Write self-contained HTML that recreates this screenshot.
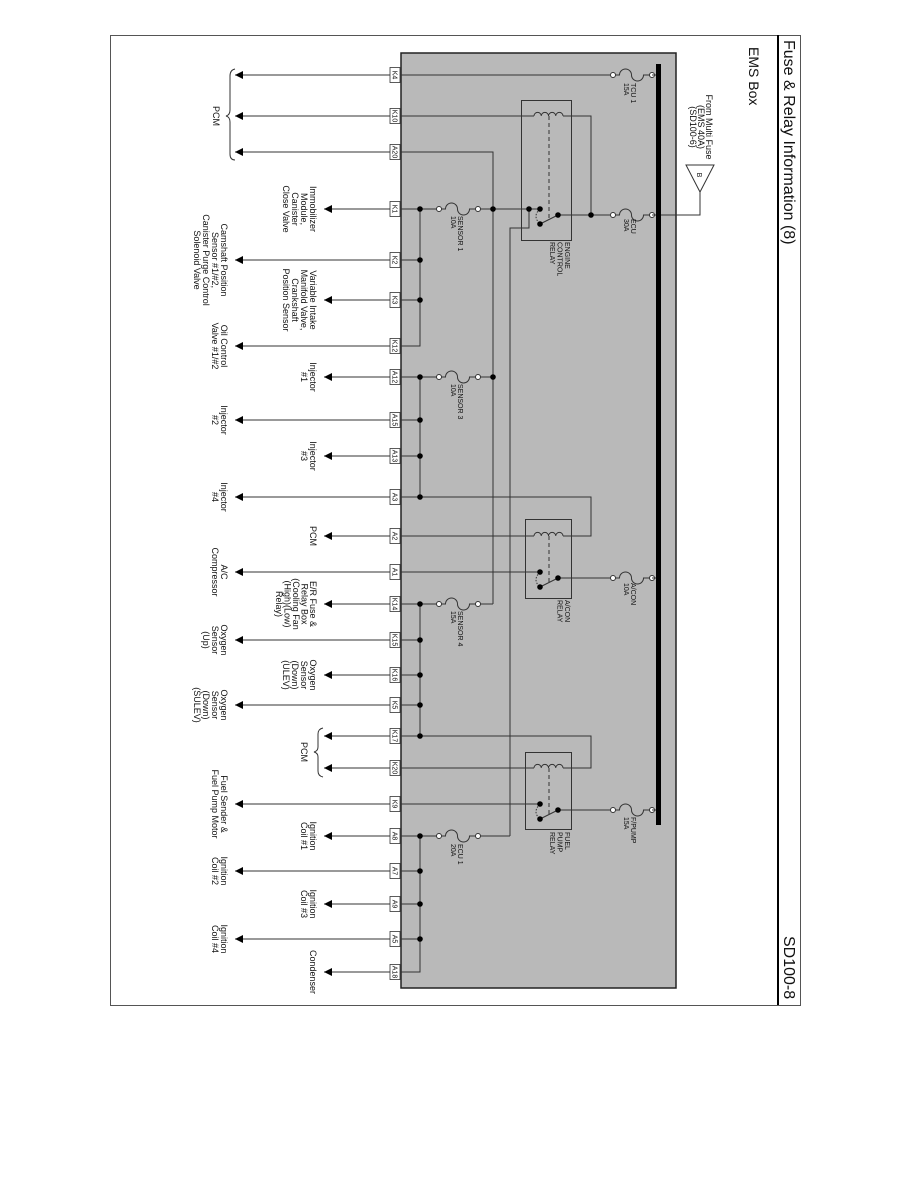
<!DOCTYPE html>
<html><head><meta charset="utf-8"><style>
html,body{margin:0;padding:0;background:#fff;}
svg{display:block;}
text{font-family:"Liberation Sans",sans-serif;fill:#111;}
.l{font-size:9px;}
.p{font-size:7px;}
</style></head><body>
<svg width="918" height="1188" viewBox="0 0 918 1188" xmlns="http://www.w3.org/2000/svg">
<defs>
<marker id="ar" markerWidth="8" markerHeight="8" refX="8" refY="4" orient="auto" markerUnits="userSpaceOnUse">
<path d="M8,4 L0,0 L0,8 Z" fill="#000"/>
</marker>
</defs>
<rect x="110.5" y="35.5" width="690" height="970" fill="none" stroke="#555" stroke-width="1"/>
<line x1="778" y1="35" x2="778" y2="1005" stroke="#000" stroke-width="2"/>
<text transform="translate(784,40) rotate(90)" style="font-size:16px">Fuse &amp; Relay Information (8)</text>
<text transform="translate(749,47) rotate(90)" style="font-size:14px">EMS Box</text>
<text transform="translate(784,936) rotate(90)" style="font-size:16px">SD100-8</text>

<rect x="401" y="53" width="275" height="935" fill="#b9b9b9" stroke="#222" stroke-width="1.5"/>
<rect x="656" y="64" width="5" height="761" fill="#000"/>

<g stroke="#333" stroke-width="1" fill="none">
<line x1="390" y1="75" x2="235" y2="75" marker-end="url(#ar)"/>
<line x1="390" y1="116" x2="235" y2="116" marker-end="url(#ar)"/>
<line x1="390" y1="152" x2="235" y2="152" marker-end="url(#ar)"/>
<line x1="390" y1="260" x2="235" y2="260" marker-end="url(#ar)"/>
<line x1="390" y1="346" x2="235" y2="346" marker-end="url(#ar)"/>
<line x1="390" y1="420" x2="235" y2="420" marker-end="url(#ar)"/>
<line x1="390" y1="497" x2="235" y2="497" marker-end="url(#ar)"/>
<line x1="390" y1="572" x2="235" y2="572" marker-end="url(#ar)"/>
<line x1="390" y1="640" x2="235" y2="640" marker-end="url(#ar)"/>
<line x1="390" y1="705" x2="235" y2="705" marker-end="url(#ar)"/>
<line x1="390" y1="804" x2="235" y2="804" marker-end="url(#ar)"/>
<line x1="390" y1="871" x2="235" y2="871" marker-end="url(#ar)"/>
<line x1="390" y1="939" x2="235" y2="939" marker-end="url(#ar)"/>
<line x1="390" y1="209" x2="324" y2="209" marker-end="url(#ar)"/>
<line x1="390" y1="300" x2="324" y2="300" marker-end="url(#ar)"/>
<line x1="390" y1="377" x2="324" y2="377" marker-end="url(#ar)"/>
<line x1="390" y1="456" x2="324" y2="456" marker-end="url(#ar)"/>
<line x1="390" y1="536" x2="324" y2="536" marker-end="url(#ar)"/>
<line x1="390" y1="604" x2="324" y2="604" marker-end="url(#ar)"/>
<line x1="390" y1="675" x2="324" y2="675" marker-end="url(#ar)"/>
<line x1="390" y1="736" x2="324" y2="736" marker-end="url(#ar)"/>
<line x1="390" y1="768" x2="324" y2="768" marker-end="url(#ar)"/>
<line x1="390" y1="836" x2="324" y2="836" marker-end="url(#ar)"/>
<line x1="390" y1="904" x2="324" y2="904" marker-end="url(#ar)"/>
<line x1="390" y1="972" x2="324" y2="972" marker-end="url(#ar)"/>

<line x1="401" y1="75" x2="613" y2="75"/>
<polyline points="401,116 534,116"/>
<polyline points="563,116 591,116 591,215"/>
<polyline points="401,152 493,152 493,604"/>
<polyline points="401,209 439,209"/>
<polyline points="478,209 540,209"/>
<polyline points="529,209 529,228 510,228 510,836"/>
<polyline points="558,215 613,215"/>
<polyline points="401,260 420,260"/>
<polyline points="401,300 420,300"/>
<polyline points="401,346 420,346 420,209"/>
<polyline points="401,377 439,377"/>
<polyline points="478,377 493,377"/>
<polyline points="420,377 420,497"/>
<polyline points="401,420 420,420"/>
<polyline points="401,456 420,456"/>
<polyline points="401,497 591,497 591,536 563,536"/>
<polyline points="401,536 534,536"/>
<polyline points="401,572 540,572"/>
<polyline points="558,578 613,578"/>
<polyline points="401,604 439,604"/>
<polyline points="478,604 493,604"/>
<polyline points="420,604 420,736"/>
<polyline points="401,640 420,640"/>
<polyline points="401,675 420,675"/>
<polyline points="401,705 420,705"/>
<polyline points="401,736 591,736 591,768 563,768"/>
<polyline points="401,768 534,768"/>
<polyline points="401,804 540,804"/>
<polyline points="558,810 613,810"/>
<polyline points="401,836 439,836"/>
<polyline points="478,836 510,836"/>
<polyline points="420,836 420,972 401,972"/>
<polyline points="401,871 420,871"/>
<polyline points="401,904 420,904"/>
<polyline points="401,939 420,939"/>
<polyline points="661,215 700,215 700,192"/>
<path d="M686,165 L714,165 L700,192 Z" fill="#fff"/>

<rect x="521.5" y="100.5" width="50" height="140"/>
<rect x="525.5" y="519.5" width="46" height="79"/>
<rect x="525.5" y="752.5" width="46" height="77"/>
<path d="M534,116 a3.6,3.6 0 0 1 7.25,0 a3.6,3.6 0 0 1 7.25,0 a3.6,3.6 0 0 1 7.25,0 a3.6,3.6 0 0 1 7.25,0"/>
<path d="M534,536 a3.6,3.6 0 0 1 7.25,0 a3.6,3.6 0 0 1 7.25,0 a3.6,3.6 0 0 1 7.25,0 a3.6,3.6 0 0 1 7.25,0"/>
<path d="M534,768 a3.6,3.6 0 0 1 7.25,0 a3.6,3.6 0 0 1 7.25,0 a3.6,3.6 0 0 1 7.25,0 a3.6,3.6 0 0 1 7.25,0"/>
<line x1="549" y1="116" x2="549" y2="219" stroke-dasharray="4,3"/>
<line x1="549" y1="536" x2="549" y2="582" stroke-dasharray="4,3"/>
<line x1="549" y1="768" x2="549" y2="814" stroke-dasharray="4,3"/>
<line x1="540" y1="224" x2="558" y2="215"/>
<line x1="540" y1="587" x2="558" y2="578"/>
<line x1="540" y1="819" x2="558" y2="810"/>
<path d="M540,209 Q532,216 540,224" stroke-dasharray="1.5,1.5"/>
<path d="M540,572 Q532,580 540,587" stroke-dasharray="1.5,1.5"/>
<path d="M540,804 Q532,812 540,819" stroke-dasharray="1.5,1.5"/>

<path d="M235,69 Q230,70 230,76 L230,110 Q230,115 226,116 Q230,117 230,122 L230,154 Q230,160 235,160"/>
<path d="M323,728 Q318,729 318,734 L318,747 Q318,751 314,752 Q318,753 318,757 L318,771 Q318,776 323,777"/>
</g>

<g stroke="#333" stroke-width="1" fill="#fff">
<circle cx="439" cy="209" r="2.5"/><circle cx="478" cy="209" r="2.5"/>
<circle cx="439" cy="377" r="2.5"/><circle cx="478" cy="377" r="2.5"/>
<circle cx="439" cy="604" r="2.5"/><circle cx="478" cy="604" r="2.5"/>
<circle cx="439" cy="836" r="2.5"/><circle cx="478" cy="836" r="2.5"/>
<circle cx="613" cy="75" r="2.5"/><circle cx="652" cy="75" r="2.5"/>
<circle cx="613" cy="215" r="2.5"/><circle cx="652" cy="215" r="2.5"/>
<circle cx="613" cy="578" r="2.5"/><circle cx="652" cy="578" r="2.5"/>
<circle cx="613" cy="810" r="2.5"/><circle cx="652" cy="810" r="2.5"/>
</g>
<g stroke="#333" stroke-width="1" fill="none">
<path d="M441.5,209 l4,0 a6,6 0 0 1 12,0 a6,6 0 0 0 12,0 l6,0"/>
<path d="M441.5,377 l4,0 a6,6 0 0 1 12,0 a6,6 0 0 0 12,0 l6,0"/>
<path d="M441.5,604 l4,0 a6,6 0 0 1 12,0 a6,6 0 0 0 12,0 l6,0"/>
<path d="M441.5,836 l4,0 a6,6 0 0 1 12,0 a6,6 0 0 0 12,0 l6,0"/>
<path d="M615.5,75 l4,0 a6,6 0 0 1 12,0 a6,6 0 0 0 12,0 l6,0"/>
<path d="M615.5,215 l4,0 a6,6 0 0 1 12,0 a6,6 0 0 0 12,0 l6,0"/>
<path d="M615.5,578 l4,0 a6,6 0 0 1 12,0 a6,6 0 0 0 12,0 l6,0"/>
<path d="M615.5,810 l4,0 a6,6 0 0 1 12,0 a6,6 0 0 0 12,0 l6,0"/>
<line x1="652" y1="75" x2="656" y2="75"/><line x1="652" y1="215" x2="656" y2="215"/>
<line x1="652" y1="578" x2="656" y2="578"/><line x1="652" y1="810" x2="656" y2="810"/>
</g>

<g fill="#000">
<circle cx="420" cy="209" r="2.8"/><circle cx="493" cy="209" r="2.8"/><circle cx="529" cy="209" r="2.8"/>
<circle cx="540" cy="209" r="2.8"/><circle cx="540" cy="224" r="2.8"/><circle cx="558" cy="215" r="2.8"/><circle cx="591" cy="215" r="2.8"/>
<circle cx="420" cy="260" r="2.8"/><circle cx="420" cy="300" r="2.8"/>
<circle cx="420" cy="377" r="2.8"/><circle cx="493" cy="377" r="2.8"/>
<circle cx="420" cy="420" r="2.8"/><circle cx="420" cy="456" r="2.8"/><circle cx="420" cy="497" r="2.8"/>
<circle cx="540" cy="572" r="2.8"/><circle cx="540" cy="587" r="2.8"/><circle cx="558" cy="578" r="2.8"/>
<circle cx="420" cy="604" r="2.8"/><circle cx="420" cy="640" r="2.8"/><circle cx="420" cy="675" r="2.8"/>
<circle cx="420" cy="705" r="2.8"/><circle cx="420" cy="736" r="2.8"/>
<circle cx="540" cy="804" r="2.8"/><circle cx="540" cy="819" r="2.8"/><circle cx="558" cy="810" r="2.8"/>
<circle cx="420" cy="836" r="2.8"/><circle cx="420" cy="871" r="2.8"/><circle cx="420" cy="904" r="2.8"/><circle cx="420" cy="939" r="2.8"/>
</g>

<g fill="#fff" stroke="#333" stroke-width="0.8">
<rect x="390" y="67.5" width="10" height="15"/><rect x="390" y="108.5" width="10" height="15"/><rect x="390" y="144.5" width="10" height="15"/>
<rect x="390" y="201.5" width="10" height="15"/><rect x="390" y="252.5" width="10" height="15"/><rect x="390" y="292.5" width="10" height="15"/>
<rect x="390" y="338.5" width="10" height="15"/><rect x="390" y="369.5" width="10" height="15"/><rect x="390" y="412.5" width="10" height="15"/>
<rect x="390" y="448.5" width="10" height="15"/><rect x="390" y="489.5" width="10" height="15"/><rect x="390" y="528.5" width="10" height="15"/>
<rect x="390" y="564.5" width="10" height="15"/><rect x="390" y="596.5" width="10" height="15"/><rect x="390" y="632.5" width="10" height="15"/>
<rect x="390" y="667.5" width="10" height="15"/><rect x="390" y="697.5" width="10" height="15"/><rect x="390" y="728.5" width="10" height="15"/>
<rect x="390" y="760.5" width="10" height="15"/><rect x="390" y="796.5" width="10" height="15"/><rect x="390" y="828.5" width="10" height="15"/>
<rect x="390" y="863.5" width="10" height="15"/><rect x="390" y="896.5" width="10" height="15"/><rect x="390" y="931.5" width="10" height="15"/>
<rect x="390" y="964.5" width="10" height="15"/>
</g>
<g class="p" text-anchor="middle">
<text class="p" transform="translate(392.5,75) rotate(90)">K4</text>
<text class="p" transform="translate(392.5,116) rotate(90)">K10</text>
<text class="p" transform="translate(392.5,152) rotate(90)">A20</text>
<text class="p" transform="translate(392.5,209) rotate(90)">K1</text>
<text class="p" transform="translate(392.5,260) rotate(90)">K2</text>
<text class="p" transform="translate(392.5,300) rotate(90)">K3</text>
<text class="p" transform="translate(392.5,346) rotate(90)">K12</text>
<text class="p" transform="translate(392.5,377) rotate(90)">A12</text>
<text class="p" transform="translate(392.5,420) rotate(90)">A15</text>
<text class="p" transform="translate(392.5,456) rotate(90)">A13</text>
<text class="p" transform="translate(392.5,497) rotate(90)">A3</text>
<text class="p" transform="translate(392.5,536) rotate(90)">A2</text>
<text class="p" transform="translate(392.5,572) rotate(90)">A1</text>
<text class="p" transform="translate(392.5,604) rotate(90)">K14</text>
<text class="p" transform="translate(392.5,640) rotate(90)">K15</text>
<text class="p" transform="translate(392.5,675) rotate(90)">K16</text>
<text class="p" transform="translate(392.5,705) rotate(90)">K5</text>
<text class="p" transform="translate(392.5,736) rotate(90)">K17</text>
<text class="p" transform="translate(392.5,768) rotate(90)">K20</text>
<text class="p" transform="translate(392.5,804) rotate(90)">K9</text>
<text class="p" transform="translate(392.5,836) rotate(90)">A8</text>
<text class="p" transform="translate(392.5,871) rotate(90)">A7</text>
<text class="p" transform="translate(392.5,904) rotate(90)">A9</text>
<text class="p" transform="translate(392.5,939) rotate(90)">A5</text>
<text class="p" transform="translate(392.5,972) rotate(90)">A18</text>
</g>

<g class="l" text-anchor="middle">
<text class="l" transform="translate(213,116) rotate(90)">PCM</text>
<text class="l" transform="translate(310,209) rotate(90)"><tspan x="0">Immobilizer</tspan><tspan x="0" dy="9">Module,</tspan><tspan x="0" dy="9">Canister</tspan><tspan x="0" dy="9">Close Valve</tspan></text>
<text class="l" transform="translate(221,260) rotate(90)"><tspan x="0">Camshaft Position</tspan><tspan x="0" dy="9">Sensor #1/#2,</tspan><tspan x="0" dy="9">Canister Purge Control</tspan><tspan x="0" dy="9">Solenoid Valve</tspan></text>
<text class="l" transform="translate(310,300) rotate(90)"><tspan x="0">Variable Intake</tspan><tspan x="0" dy="9">Manifold Valve,</tspan><tspan x="0" dy="9">Crankshaft</tspan><tspan x="0" dy="9">Position Sensor</tspan></text>
<text class="l" transform="translate(221,346) rotate(90)"><tspan x="0">Oil Control</tspan><tspan x="0" dy="9">Valve #1/#2</tspan></text>
<text class="l" transform="translate(310,377) rotate(90)"><tspan x="0">Injector</tspan><tspan x="0" dy="9">#1</tspan></text>
<text class="l" transform="translate(221,420) rotate(90)"><tspan x="0">Injector</tspan><tspan x="0" dy="9">#2</tspan></text>
<text class="l" transform="translate(310,456) rotate(90)"><tspan x="0">Injector</tspan><tspan x="0" dy="9">#3</tspan></text>
<text class="l" transform="translate(221,497) rotate(90)"><tspan x="0">Injector</tspan><tspan x="0" dy="9">#4</tspan></text>
<text class="l" transform="translate(310,536) rotate(90)">PCM</text>
<text class="l" transform="translate(221,572) rotate(90)"><tspan x="0">A/C</tspan><tspan x="0" dy="9">Compressor</tspan></text>
<text class="l" transform="translate(310,604) rotate(90)"><tspan x="0">E/R Fuse &amp;</tspan><tspan x="0" dy="8.5">Relay Box</tspan><tspan x="0" dy="8.5">(Cooling Fan</tspan><tspan x="0" dy="8.5">(High)(Low)</tspan><tspan x="0" dy="8.5">Relay)</tspan></text>
<text class="l" transform="translate(221,640) rotate(90)"><tspan x="0">Oxygen</tspan><tspan x="0" dy="9">Sensor</tspan><tspan x="0" dy="9">(Up)</tspan></text>
<text class="l" transform="translate(310,675) rotate(90)"><tspan x="0">Oxygen</tspan><tspan x="0" dy="9">Sensor</tspan><tspan x="0" dy="9">(Down)</tspan><tspan x="0" dy="9">(ULEV)</tspan></text>
<text class="l" transform="translate(221,705) rotate(90)"><tspan x="0">Oxygen</tspan><tspan x="0" dy="9">Sensor</tspan><tspan x="0" dy="9">(Down)</tspan><tspan x="0" dy="9">(SULEV)</tspan></text>
<text class="l" transform="translate(301,752) rotate(90)">PCM</text>
<text class="l" transform="translate(221,804) rotate(90)"><tspan x="0">Fuel Sender &amp;</tspan><tspan x="0" dy="9">Fuel Pump Motor</tspan></text>
<text class="l" transform="translate(310,836) rotate(90)"><tspan x="0">Ignition</tspan><tspan x="0" dy="9">Coil #1</tspan></text>
<text class="l" transform="translate(221,871) rotate(90)"><tspan x="0">Ignition</tspan><tspan x="0" dy="9">Coil #2</tspan></text>
<text class="l" transform="translate(310,904) rotate(90)"><tspan x="0">Ignition</tspan><tspan x="0" dy="9">Coil #3</tspan></text>
<text class="l" transform="translate(221,939) rotate(90)"><tspan x="0">Ignition</tspan><tspan x="0" dy="9">Coil #4</tspan></text>
<text class="l" transform="translate(310,972) rotate(90)">Condenser</text>
<text class="l" transform="translate(706,127) rotate(90)"><tspan x="0">From Multi Fuse</tspan><tspan x="0" dy="8">(EMS 40A)</tspan><tspan x="0" dy="8">(SD100-6)</tspan></text>
<text class="p" transform="translate(697,175) rotate(90)">B</text>
</g>

<g class="p">
<text class="p" transform="translate(631,83) rotate(90)"><tspan x="0">TCU 1</tspan><tspan x="0" dy="7">15A</tspan></text>
<text class="p" transform="translate(631,219) rotate(90)"><tspan x="0">ECU</tspan><tspan x="0" dy="7">30A</tspan></text>
<text class="p" transform="translate(631,583) rotate(90)"><tspan x="0">A/CON</tspan><tspan x="0" dy="7">10A</tspan></text>
<text class="p" transform="translate(631,817) rotate(90)"><tspan x="0">F/PUMP</tspan><tspan x="0" dy="7">15A</tspan></text>
<text class="p" transform="translate(458,216) rotate(90)"><tspan x="0">SENSOR 1</tspan><tspan x="0" dy="7">10A</tspan></text>
<text class="p" transform="translate(458,384) rotate(90)"><tspan x="0">SENSOR 3</tspan><tspan x="0" dy="7">10A</tspan></text>
<text class="p" transform="translate(458,611) rotate(90)"><tspan x="0">SENSOR 4</tspan><tspan x="0" dy="7">15A</tspan></text>
<text class="p" transform="translate(458,844) rotate(90)"><tspan x="0">ECU 1</tspan><tspan x="0" dy="7">20A</tspan></text>
<text class="p" transform="translate(565,242) rotate(90)"><tspan x="0">ENGINE</tspan><tspan x="0" dy="7.5">CONTROL</tspan><tspan x="0" dy="7.5">RELAY</tspan></text>
<text class="p" transform="translate(565,600) rotate(90)"><tspan x="0">A/CON</tspan><tspan x="0" dy="7.5">RELAY</tspan></text>
<text class="p" transform="translate(565,832) rotate(90)"><tspan x="0">FUEL</tspan><tspan x="0" dy="7.5">PUMP</tspan><tspan x="0" dy="7.5">RELAY</tspan></text>
</g>
</svg>
</body></html>
